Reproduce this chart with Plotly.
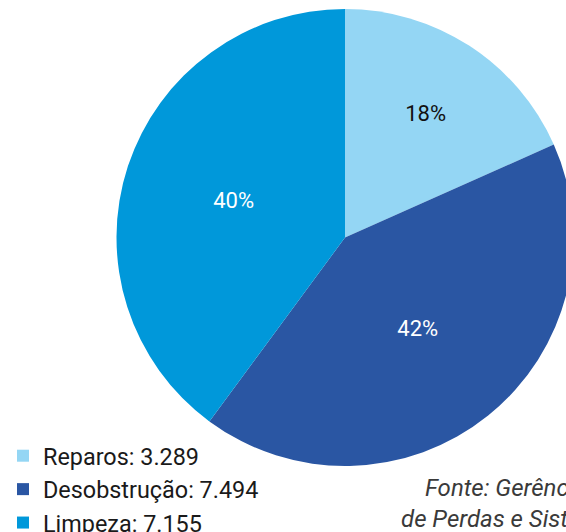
import plotly.graph_objects as go

# Data
categories = ["Reparos", "Desobstrução", "Limpeza"]
values = [3289, 7494, 7155]
colors = ["#94D6F4", "#2A56A3", "#0098DA"]
text_colors = ["#111111", "#FFFFFF", "#FFFFFF"]
source_lines = ["Fonte: Gerência de Controle", "de Perdas e Sistemas"]


def br_fmt(v):
    return f"{v:,}".replace(",", ".")


labels = [f"{c}: {br_fmt(v)}" for c, v in zip(categories, values)]

W, H = 580, 532
FONT = "Roboto"

fig = go.Figure(
    go.Pie(
        labels=labels,
        values=values,
        sort=False,
        direction="clockwise",
        rotation=0,
        marker=dict(colors=colors, line=dict(width=0)),
        texttemplate="%{percent:.0%}",
        textposition="inside",
        insidetextorientation="horizontal",
        textfont=dict(family=FONT, size=22, color=text_colors),
        domain=dict(x=[116.5 / W, 573.5 / W], y=[(H - 466) / H, (H - 9) / H]),
        hoverinfo="label+percent",
    )
)

fig.update_layout(
    width=W,
    height=H,
    margin=dict(l=0, r=0, t=0, b=0, autoexpand=False),
    paper_bgcolor="white",
    plot_bgcolor="white",
    font=dict(family=FONT),
    showlegend=True,
    legend=dict(
        x=3 / W,
        xanchor="left",
        y=(H - 434) / H,
        yanchor="top",
        font=dict(family=FONT, size=23.4, color="#1a1a1a"),
        bgcolor="rgba(0,0,0,0)",
        traceorder="normal",
    ),
    annotations=[
        dict(
            text=f"<i>{source_lines[0]}</i>",
            x=423 / W, y=(H - 488) / H, xref="paper", yref="paper",
            xanchor="left", yanchor="middle", showarrow=False,
            font=dict(family=FONT, size=24, color="#3a3a3a"),
        ),
        dict(
            text=f"<i>{source_lines[1]}</i>",
            x=399 / W, y=(H - 519) / H, xref="paper", yref="paper",
            xanchor="left", yanchor="middle", showarrow=False,
            font=dict(family=FONT, size=24, color="#3a3a3a"),
        ),
    ],
)

fig.write_html(
    "out.html",
    config={"displayModeBar": False},
    post_script=(
        "document.documentElement.style.overflow='hidden';"
        "document.body.style.overflow='hidden';"
        "document.body.style.margin='0';"
    ),
)
